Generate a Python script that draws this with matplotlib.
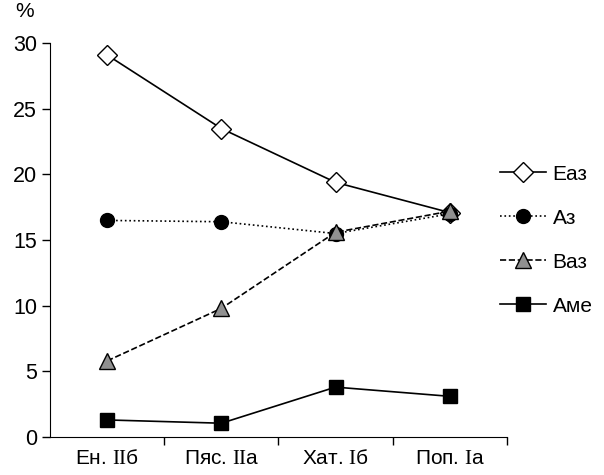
import matplotlib
matplotlib.use('Agg')
import matplotlib.pyplot as plt

categories = [r'Ен. $\mathrm{II}$б', r'Пяс. $\mathrm{II}$а',
              r'Хат. $\mathrm{I}$б', r'Поп. $\mathrm{I}$а']
eaz = [29.1, 23.5, 19.4, 17.1]
az = [16.5, 16.4, 15.5, 17.0]
vaz = [5.8, 9.8, 15.6, 17.2]
ame = [1.3, 1.05, 3.8, 3.1]

plt.rcParams['font.family'] = ['Liberation Sans', 'DejaVu Sans']
plt.rcParams['mathtext.fontset'] = 'custom'
plt.rcParams['mathtext.rm'] = 'Liberation Serif'

fig = plt.figure(figsize=(6.04, 4.75), dpi=100)
ax = fig.add_axes([0.083, 0.08, 0.756, 0.829])

x = range(len(categories))
ax.plot(x, eaz, '-', color='black', lw=1.2, marker='D', ms=10,
        mfc='white', mec='black', mew=1.0, label='Еаз')
ax.plot(x, az, ':', color='black', lw=1.2, marker='o', ms=10,
        mfc='black', mec='black', label='Аз')
ax.plot(x, vaz, '--', color='black', lw=1.2, marker='^', ms=12,
        mfc='#909090', mec='black', mew=1.0, label='Ваз')
ax.plot(x, ame, '-', color='black', lw=1.2, marker='s', ms=10,
        mfc='black', mec='black', label='Аме')

ax.set_xlim(-0.5, 3.5)
ax.set_ylim(0, 30)
ax.set_yticks([0, 5, 10, 15, 20, 25, 30])
ax.set_xticks(list(x))
ax.set_xticklabels(categories, fontsize=15)
ax.set_xticks([0.5, 1.5, 2.5, 3.5], minor=True)
ax.tick_params(axis='x', which='major', length=0, pad=9)
ax.tick_params(axis='x', which='minor', length=6, width=1)
ax.tick_params(axis='y', labelsize=15.5, length=6, width=1)
ax.spines['top'].set_visible(False)
ax.spines['right'].set_visible(False)
fig.text(0.04, 0.995, '%', fontsize=15, ha='center', va='top')

ax.legend(loc='center left', bbox_to_anchor=(0.945, 0.50), frameon=False,
          fontsize=15, handlelength=2.2, labelspacing=1.2, handletextpad=0.3)

fig.savefig('out.png', dpi=100)
